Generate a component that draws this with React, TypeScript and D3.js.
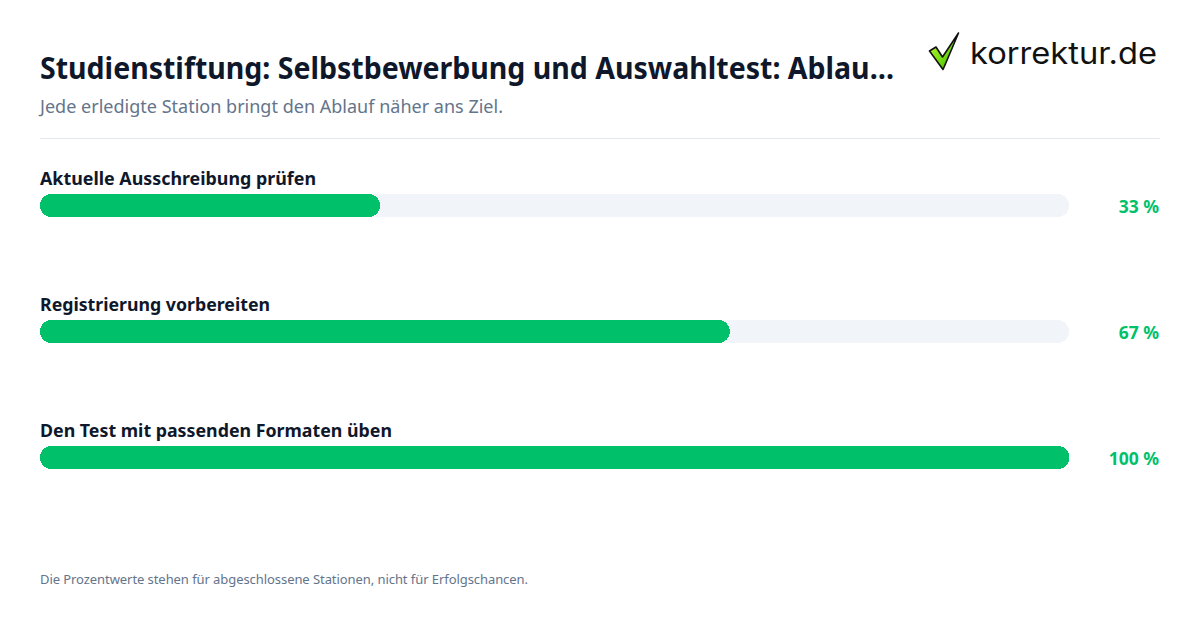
import React from "react";
import * as d3 from "d3";

const categories = ["Aktuelle Ausschreibung prüfen", "Registrierung vorbereiten", "Den Test mit passenden Formaten üben"];
const values = [33, 67, 100];
const valueLabels = ["33 %", "67 %", "100 %"];
const title = "Studienstiftung: Selbstbewerbung und Auswahltest: Ablau…";
const subtitle = "Jede erledigte Station bringt den Ablauf näher ans Ziel.";
const footnote = "Die Prozentwerte stehen für abgeschlossene Stationen, nicht für Erfolgschancen.";

const font = "'Noto Sans', sans-serif";
const x = d3.scaleLinear().domain([0, 100]).range([40, 1069]);
const y = d3.scaleBand<string>().domain(categories).range([194, 572]);
const barH = 23;
const green = "#00c16a";

export default function App() {
  return (
    <svg width={1200} height={630} viewBox="0 0 1200 630" style={{ position: "absolute", left: 0, top: 0, background: "#fff" }} fontFamily={font}>
      <defs>
        <linearGradient id="chk" x1="0" y1="0" x2="1" y2="1">
          <stop offset="0" stopColor="#d2f53c" />
          <stop offset="0.55" stopColor="#74dc10" />
          <stop offset="1" stopColor="#3aa800" />
        </linearGradient>
      </defs>
      <rect width={1200} height={630} fill="#ffffff" />
      <text x={40} y={79} fontSize={30} fontWeight={700} fill="#0f172a" textLength={854} lengthAdjust="spacingAndGlyphs">{title}</text>
      <text x={40} y={113} fontSize={18} fill="#64748b" textLength={463}>{subtitle}</text>
      <line x1={40} x2={1160} y1={138.5} y2={138.5} stroke="#e2e8f0" />
      {categories.map((c, i) => {
        const top = y(c)!;
        return (
          <g key={c}>
            <text x={40} y={top - 9} fontSize={18} fontWeight={700} fill="#0f172a" textLength={[276, 230, 352][i]} lengthAdjust="spacingAndGlyphs">{c}</text>
            <rect x={x(0)} y={top} width={x(100) - x(0)} height={barH} rx={11.5} fill="#f1f5f9" shapeRendering="crispEdges" />
            <rect x={x(0)} y={top} width={x(values[i]) - x(0) + 0.5} height={barH} rx={11.5} fill={green} shapeRendering="crispEdges" />
            <text x={1159} y={top + 19} textAnchor="end" fontSize={17.5} fontWeight={700} fill={green}>{valueLabels[i]}</text>
          </g>
        );
      })}
      <text x={40} y={584} fontSize={13} fill="#64748b" textLength={488}>{footnote}</text>
      <g>
        <path d="M929.5 51 L936 47 L942.5 57 L958.5 33 L945 65 L943 69.5 Z" fill="url(#chk)" stroke="#111" strokeWidth={1.6} strokeLinejoin="round" />
        <text x={970} y={64} fontSize={30} fill="#111" fontFamily="Inter, sans-serif" textLength={187} lengthAdjust="spacingAndGlyphs">korrektur.de</text>
      </g>
    </svg>
  );
}
